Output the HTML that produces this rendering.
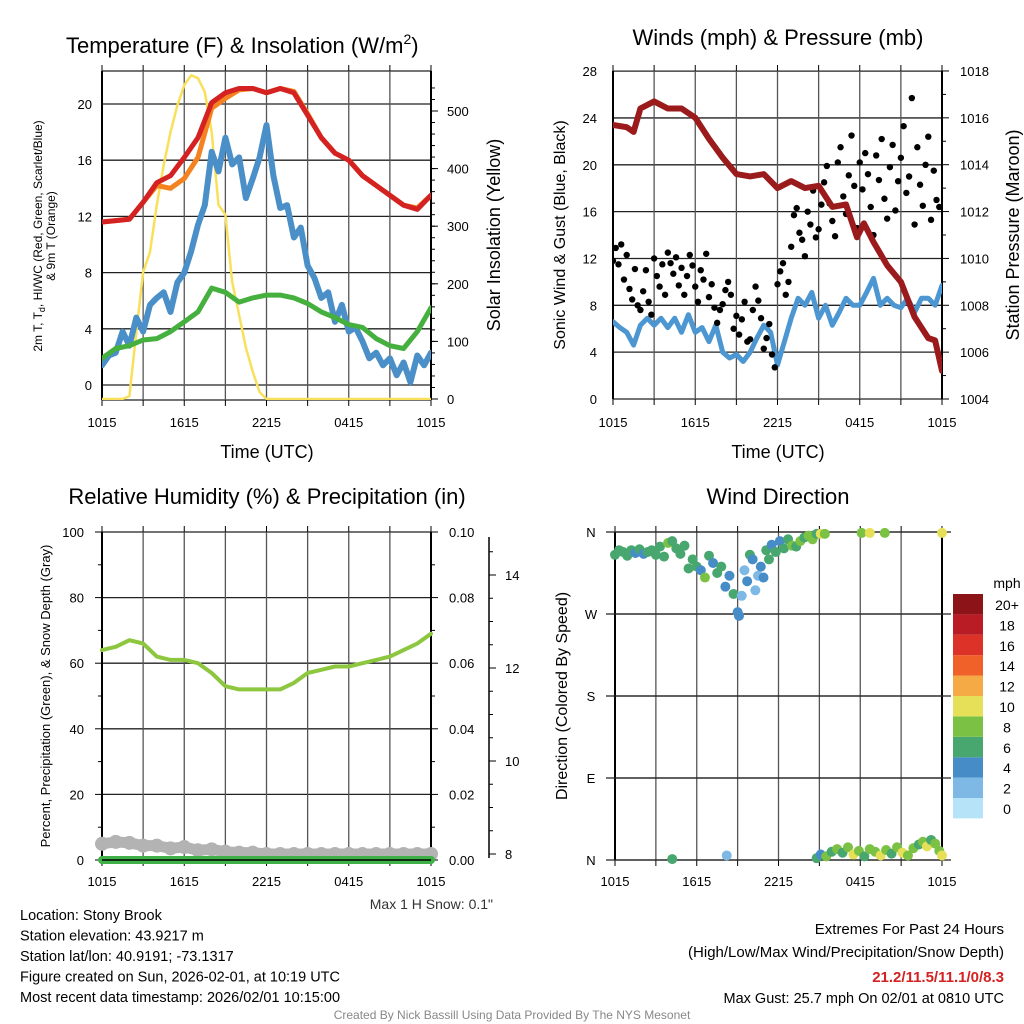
<!DOCTYPE html>
<html><head><meta charset="utf-8">
<style>
html,body{margin:0;padding:0;background:#fff;}
svg{display:block;font-family:"Liberation Sans",Arial,sans-serif;}
</style></head>
<body>
<svg id="chart" width="1024" height="1024" viewBox="0 0 1024 1024" xmlns="http://www.w3.org/2000/svg"></svg>
<script>
// ---------- DATA ----------
const timeTicks = ["1015","1615","2215","0415","1015"];
const tempRed = [11.6,11.7,11.8,13.0,14.4,14.9,16.2,17.6,20.1,20.8,21.1,21.1,20.8,21.1,20.8,19.2,17.6,16.5,16.0,14.9,14.2,13.5,12.8,12.5,13.5];
const tempOrange = [11.6,11.7,11.8,13.0,14.2,14.0,14.7,16.2,19.7,20.4,21.0,21.1,20.8,21.1,20.9,19.3,17.6,16.5,16.0,14.9,14.2,13.5,12.8,12.6,13.5];
const tempGreen = [1.9,2.6,2.8,3.2,3.3,3.8,4.5,5.2,6.9,6.6,5.9,6.2,6.4,6.4,6.2,5.8,5.2,4.8,4.3,4.1,3.3,2.8,2.6,3.8,5.5];
const tempBlue = [1.4,2.1,2.3,3.8,2.8,4.8,3.8,5.7,6.2,6.6,5.2,7.3,8.0,9.5,11.4,12.8,16.6,15.2,17.6,15.7,16.2,13.3,14.7,16.2,18.5,14.9,12.6,12.8,10.5,11.2,8.5,7.6,6.2,6.6,4.5,5.7,3.8,4.1,3.1,1.9,2.3,1.4,1.9,0.7,1.6,0.2,2.1,1.4,2.3];
const solar = [0,0,0,0,5,116,220,255,337,406,463,510,545,562,557,533,463,337,320,203,146,89,47,12,0,0,0,0,0,0,0,0,0,0,0,0,0,0,0,0,0,0,0,0,0,0,0,0,0];
const tempTicks = [0,4,8,12,16,20];
const solarTicks = [0,100,200,300,400,500];
const windSonic = [6.6,6.1,5.7,4.6,6.3,6.9,6.3,6.9,6.1,6.9,5.7,7.2,5.7,6.1,4.9,6.3,4.0,3.5,3.8,3.2,4.0,5.2,6.3,5.7,2.9,4.9,6.9,8.6,8.0,9.1,6.9,8.0,6.3,7.4,8.6,8.0,8.0,9.1,10.3,8.0,8.6,8.0,7.8,8.6,7.4,8.6,8.6,8.0,9.7];
const gusts = [11.8,12.9,11.5,13.2,10.2,12.3,9.4,8.5,11.1,8.0,7.6,9.2,11.0,8.3,7.2,
12.0,10.5,9.6,11.5,8.9,12.5,11.6,10.7,12.1,9.7,11.2,8.9,10.5,12.3,11.4,
9.6,8.3,11.0,10.2,12.4,8.7,9.8,7.8,6.5,7.6,8.1,9.3,10.0,8.9,6.0,
7.1,5.5,6.8,8.3,4.9,5.1,7.6,9.6,8.4,6.9,4.3,5.2,6.4,3.8,2.7,
9.8,10.9,11.6,8.9,10.0,13.0,15.7,16.3,14.2,13.6,12.2,16.0,14.9,17.8,13.8,
14.5,16.6,18.5,19.9,16.7,15.2,13.9,20.2,21.5,17.3,15.8,19.1,22.5,18.2,14.6,
20.2,17.9,21.0,19.2,16.4,14.0,20.8,18.7,22.2,17.1,15.4,19.8,21.7,16.1,18.6,
20.6,23.3,17.6,19.0,25.7,14.9,21.5,18.3,16.5,20.0,22.4,15.3,19.5,17.0,16.4];
const presTime = [0,1,1.5,2,3,4,5,6,7,8,9,10,11,12,13,14,15,16,17,17.8,18.3,19,20,21,22,23,23.5,24];
const pressure = [1015.7,1015.6,1015.4,1016.4,1016.7,1016.4,1016.4,1016.0,1015.1,1014.3,1013.6,1013.5,1013.6,1013.0,1013.3,1013.0,1013.1,1012.2,1012.3,1010.9,1011.5,1010.7,1009.7,1009.0,1007.5,1006.6,1006.5,1005.2];
const windTicks = [0,4,8,12,16,20,24,28];
const presTicks = [1004,1006,1008,1010,1012,1014,1016,1018];
const rh = [64,65,67,66,62,61,61,60,57,53,52,52,52,52,54,57,58,59,59,60,61,62,64,66,69];
const precip = [0,0,0,0,0,0,0,0,0,0,0,0,0,0,0,0,0,0,0,0,0,0,0,0,0];
const snowDepth = [8.22,8.26,8.24,8.18,8.18,8.12,8.15,8.08,8.1,8.05,8.03,8.03,8.0,8.0,8.0,8.0,8.0,8.0,8.0,8.0,8.0,8.0,8.0,8.0,8.0];
const rhTicks = [0,20,40,60,80,100];
const precipTicks = ["0.00","0.02","0.04","0.06","0.08","0.10"];
const snowTicks = [8,10,12,14];
const wdTime = [0,0.3,0.6,0.9,1.2,1.5,1.8,2.1,2.4,2.7,3.0,3.3,3.6,3.9,4.2,4.5,4.8,5.1,5.4,5.7,6.0,6.3,6.6,6.9,7.2,7.5,7.8,8.1,8.4,8.7,9.0,9.1,9.3,9.5,9.7,9.9,10.1,10.3,10.5,10.7,10.9,11.1,11.3,11.5,11.8,12.1,12.4,12.7,13.0,13.3,13.6,13.9,14.2,14.5,14.8,15.1,15.4,18.1,18.7,19.8,24,
4.2,8.2,14.8,15.1,15.5,15.9,16.3,16.7,17.1,17.5,17.9,18.3,18.7,19.1,19.5,19.9,20.3,20.7,21.1,21.5,21.9,22.3,22.6,22.9,23.2,23.5,23.8,24];
const wdDir = [335,340,338,334,340,337,341,336,338,340,335,344,333,348,350,342,336,345,320,330,322,318,310,334,326,315,322,300,312,292,272,268,290,318,306,335,330,296,312,322,310,340,330,346,338,350,342,352,345,344,350,354,356,352,358,358,358,359,359,359,359,
1,5,2,6,4,9,12,8,14,6,10,4,12,9,5,11,7,14,8,5,13,17,20,15,22,18,10,5];
const wdSpd = [6,6,6,6,6,4,6,4,6,6,6,6,6,8,6,6,6,6,6,6,6,4,8,6,4,6,6,4,4,6,4,4,2,2,4,6,4,2,2,4,4,6,6,4,6,4,6,6,8,6,8,6,8,8,6,10,8,8,10,8,10,
6,2,6,4,8,6,8,6,8,10,8,6,8,8,10,8,6,8,10,8,8,6,8,10,6,8,8,10];
const dirLabels = ["N","E","S","W","N"];
const speedLabels = ["0","2","4","6","8","10","12","14","16","18","20+"];
const speedColors = ["#b7e3f8","#7db9e4","#468dc8","#48a66f","#7bc244","#e6e059","#f6aa46","#ef6128","#dc3228","#b91c24","#8c1419"];

// ---------- HELPERS ----------
const NS="http://www.w3.org/2000/svg";
const svg=document.getElementById('chart');
function mk(tag,attrs,parent){const e=document.createElementNS(NS,tag);for(const k in attrs)e.setAttribute(k,attrs[k]);(parent||svg).appendChild(e);return e;}
function txt(s,x,y,size,anchor,parent,extra){const t=mk('text',Object.assign({x:x,y:y,'font-size':size,'text-anchor':anchor||'start',fill:'#000'},extra||{}),parent);t.textContent=s;return t;}
function linePath(xs,ys){return xs.map((x,i)=>(i?'L':'M')+x.toFixed(1)+','+ys[i].toFixed(1)).join('');}

function frame(g,x0,x1,y0,y1,hGrid,vGrid){
  hGrid.forEach(y=>{mk('line',{x1:x0,x2:x1,y1:y,y2:y,stroke:'#222','stroke-width':1.3},g);});
  vGrid.forEach(x=>{mk('line',{x1:x,x2:x,y1:y0,y2:y1,stroke:'#555','stroke-width':1.3},g);
    mk('line',{x1:x,x2:x,y1:y1,y2:y1+6,stroke:'#000','stroke-width':1},g);
    mk('line',{x1:x,x2:x,y1:y0,y2:y0-6,stroke:'#000','stroke-width':1},g);});
  mk('line',{x1:x0,x2:x0,y1:y0,y2:y1,stroke:'#000','stroke-width':2},g);
  mk('line',{x1:x1,x2:x1,y1:y0,y2:y1,stroke:'#000','stroke-width':2},g);
}
const hrs25=[...Array(25).keys()];
const hrs49=[...Array(49).keys()].map(i=>i/2);

// ---------- PANEL 1 ----------
(function(){
  const g=mk('g',{});
  
  
  const X=h=>102+h*329/24, YT=v=>385-v*14.05, YS=w=>399-w*0.576;
  const t=txt('Temperature (F) & Insolation (W/m',66,53,22,'start',g);
  
  const sp=mk('tspan',{dy:-9,'font-size':14},t);sp.textContent='2';
  const sp2=mk('tspan',{dy:9},t);sp2.textContent=')';
  frame(g,102,431,71,400,tempTicks.map(YT).concat([71,400]),[0,3,6,9,12,15,18,21,24].map(X));
  tempTicks.forEach(v=>{const l=txt(String(v),92,YT(v)+5,13,'end',g);});
  solarTicks.forEach(v=>{mk('line',{x1:431,x2:438,y1:YS(v),y2:YS(v),stroke:'#000'},g);const l=txt(String(v),447,YS(v)+5,13,'start',g);});
  for(let w=20;w<560;w+=20){mk('line',{x1:431,x2:435,y1:YS(w),y2:YS(w),stroke:'#000'},g);}
  timeTicks.forEach((s,i)=>{const l=txt(s,X(i*6),427,13,'middle',g);});
  const xl=txt('Time (UTC)',267,458,18,'middle',g);
  const yr=txt('Solar Insolation (Yellow)',0,0,18,'middle',g,{transform:'translate(500,235) rotate(-90)'});
  const yl=txt('',0,0,12,'middle',g,{transform:'translate(42,236) rotate(-90)'});
  
  const a=mk('tspan',{x:0,dy:0},yl);a.textContent='2m T, T';const a2=mk('tspan',{'font-size':9,dy:3},yl);a2.textContent='d';const a3=mk('tspan',{dy:-3},yl);a3.textContent=', HI/WC (Red, Green, Scarlet/Blue)';
  const b=mk('tspan',{x:0,dy:13},yl);b.textContent='& 9m T (Orange)';
  const clip=mk('clipPath',{id:'c1'},g);mk('rect',{x:102,y:71,width:329,height:329},clip);
  const pg=mk('g',{'clip-path':'url(#c1)'},g);
  const sol=mk('path',{d:linePath(hrs49.map(X),solar.map(YS)),fill:'none',stroke:'#f9e05b','stroke-width':2.5,'stroke-linejoin':'round'},pg);
  
  const bl=mk('path',{d:linePath(hrs49.map(X),tempBlue.map(YT)),fill:'none',stroke:'#4a8fc7','stroke-width':6,'stroke-linejoin':'round','stroke-linecap':'round'},pg);
  
  const gr=mk('path',{d:linePath(hrs25.map(X),tempGreen.map(YT)),fill:'none',stroke:'#46b03f','stroke-width':5,'stroke-linejoin':'round','stroke-linecap':'round'},pg);
  
  const or=mk('path',{d:linePath(hrs25.map(X),tempOrange.map(YT)),fill:'none',stroke:'#f58220','stroke-width':5,'stroke-linejoin':'round','stroke-linecap':'round'},pg);
  
  const rd=mk('path',{d:linePath(hrs25.map(X),tempRed.map(YT)),fill:'none',stroke:'#d42121','stroke-width':5,'stroke-linejoin':'round','stroke-linecap':'round'},pg);
  
})();

// ---------- PANEL 2 ----------
(function(){
  const g=mk('g',{});
  
  
  const X=h=>613+h*329/24, YW=v=>399-v*11.71, YP=p=>399-(p-1004)*23.43;
  const t=txt('Winds (mph) & Pressure (mb)',778,45,22,'middle',g);
  frame(g,613,942,71,399,windTicks.map(YW),[0,3,6,9,12,15,18,21,24].map(X));
  windTicks.forEach(v=>{const l=txt(String(v),597,YW(v)+5,13,'end',g);});
  presTicks.forEach(v=>{mk('line',{x1:942,x2:949,y1:YP(v),y2:YP(v),stroke:'#000'},g);if(v<1018)mk('line',{x1:942,x2:946,y1:YP(v+1),y2:YP(v+1),stroke:'#000'},g);const l=txt(String(v),960,YP(v)+5,13,'start',g);});
  timeTicks.forEach((s,i)=>{const l=txt(s,X(i*6),427,13,'middle',g);});
  const xl=txt('Time (UTC)',778,458,18,'middle',g);
  const yl=txt('Sonic Wind & Gust (Blue, Black)',0,0,16,'middle',g,{transform:'translate(565,235) rotate(-90)'});
  const yr=txt('Station Pressure (Maroon)',0,0,18,'middle',g,{transform:'translate(1019,235) rotate(-90)'});
  const clip=mk('clipPath',{id:'c2'},g);mk('rect',{x:613,y:71,width:329,height:328},clip);
  const pg=mk('g',{'clip-path':'url(#c2)'},g);
  const bl=mk('path',{d:linePath(hrs49.map(X),windSonic.map(YW)),fill:'none',stroke:'#4c96d2','stroke-width':5,'stroke-linejoin':'round','stroke-linecap':'round'},pg);
  
  gusts.forEach((v,i)=>{const c=mk('circle',{cx:X(i*0.2),cy:YW(v),r:3.2,fill:'#000'},pg);
    
    });
  const pr=mk('path',{d:linePath(presTime.map(X),pressure.map(YP)),fill:'none',stroke:'#9b1a1c','stroke-width':6,'stroke-linejoin':'round','stroke-linecap':'round'},pg);
  
})();

// ---------- PANEL 3 ----------
(function(){
  const g=mk('g',{});
  
  
  const X=h=>102+h*329/24, YR=v=>860-v*3.28, YPr=v=>860-v*3280, YSn=v=>854-(v-8)*46.5;
  const t=txt('Relative Humidity (%) & Precipitation (in)',267,504,22,'middle',g);
  frame(g,102,431,532,860,rhTicks.map(YR),[0,3,6,9,12,15,18,21,24].map(X));
  rhTicks.forEach(v=>{mk('line',{x1:95,x2:102,y1:YR(v),y2:YR(v),stroke:'#000'},g);if(v<100)mk('line',{x1:98,x2:102,y1:YR(v+10),y2:YR(v+10),stroke:'#000'},g);const l=txt(String(v),84,YR(v)+5,13,'end',g);});
  precipTicks.forEach((s,i)=>{const y=YPr(i*0.02);mk('line',{x1:431,x2:438,y1:y,y2:y,stroke:'#000'},g);if(i<5)mk('line',{x1:431,x2:435,y1:y-32.8,y2:y-32.8,stroke:'#000'},g);const l=txt(s,449,y+5,13,'start',g);});
  mk('line',{x1:489,x2:489,y1:537,y2:858,stroke:'#000','stroke-width':1.5},g);
  snowTicks.forEach(v=>{mk('line',{x1:489,x2:496,y1:YSn(v),y2:YSn(v),stroke:'#000'},g);[0.5,1,1.5].forEach(d=>{const y=YSn(v+d);if(y>=537)mk('line',{x1:489,x2:493,y1:y,y2:y,stroke:'#000'},g);});const l=txt(String(v),505,YSn(v)+5,13,'start',g);});
  timeTicks.forEach((s,i)=>{const l=txt(s,X(i*6),886,13,'middle',g);});
  const yl=txt('Percent, Precipitation (Green), & Snow Depth (Gray)',0,0,13,'middle',g,{transform:'translate(50,696) rotate(-90)'});
  snowDepth.forEach((v,i)=>{const c=mk('circle',{cx:X(i),cy:YSn(v),r:7,fill:'#b3b3b3'},g);
    
    });
  const sd=mk('path',{d:linePath(hrs25.map(X),snowDepth.map(YSn)),fill:'none',stroke:'#b3b3b3','stroke-width':11,'stroke-linecap':'round','stroke-linejoin':'round'},g);
  
  const pc=mk('path',{d:linePath(hrs25.map(X),precip.map(YPr)),fill:'none',stroke:'#3fb148','stroke-width':8,'stroke-linecap':'round'},g);
  
  mk('line',{x1:102,x2:431,y1:860,y2:860,stroke:'#000','stroke-width':1.5},g);
  const rl=mk('path',{d:linePath(hrs25.map(X),rh.map(YR)),fill:'none',stroke:'#8dc63f','stroke-width':4,'stroke-linejoin':'round','stroke-linecap':'round'},g);
  
  const ms=txt('Max 1 H Snow: 0.1"',493,909,14,'end',g,{fill:'#333'});
})();

// ---------- PANEL 4 ----------
(function(){
  const g=mk('g',{});
  
  
  const X=h=>615+h*327/24, YD=d=>860-d*328/360;
  const t=txt('Wind Direction',778,504,22,'middle',g);
  frame(g,615,942,532,860,[0,90,180,270,360].map(YD),[0,3,6,9,12,15,18,21,24].map(X));
  mk('line',{x1:606,x2:951,y1:532,y2:532,stroke:'#222','stroke-width':1.3},g);
  mk('line',{x1:606,x2:951,y1:860,y2:860,stroke:'#222','stroke-width':1.3},g);
  [90,180,270].forEach(d=>{mk('line',{x1:606,x2:951,y1:YD(d),y2:YD(d),stroke:'#222','stroke-width':1.3},g);});
  dirLabels.forEach((s,i)=>{const l=txt(s,591,YD(i*90)+5,13,'middle',g);});
  timeTicks.forEach((s,i)=>{const l=txt(s,X(i*6),886,13,'middle',g);});
  const yl=txt('Direction (Colored By Speed)',0,0,16,'middle',g,{transform:'translate(567,696) rotate(-90)'});
  wdTime.forEach((h,i)=>{const idx=Math.min(10,Math.floor(wdSpd[i]/2));
    const c=mk('circle',{cx:X(h),cy:YD(wdDir[i]),r:5,fill:speedColors[idx]},g);
    
    });
  const ut=txt('mph',1007,588,14,'middle',g);
  speedLabels.forEach((s,i)=>{const y=798-i*20.4;
    const r=mk('rect',{x:953,y:y,width:30,height:20.4,fill:speedColors[i]},g);
    
    
    const l=txt(s,1007,y+16,14,'middle',g);});
})();

// ---------- FOOTER ----------
(function(){
  const g=mk('g',{});
  
  
  const left=["Location: Stony Brook","Station elevation: 43.9217 m","Station lat/lon: 40.9191; -73.1317","Figure created on Sun, 2026-02-01, at 10:19 UTC","Most recent data timestamp: 2026/02/01 10:15:00"];
  left.forEach((s,i)=>{const l=txt(s,20,920+i*20.5,14.5,'start',g);});
  const r1=txt('Extremes For Past 24 Hours',1004,934,15,'end',g);
  const r2=txt('(High/Low/Max Wind/Precipitation/Snow Depth)',1004,957,15,'end',g);
  const r3=txt('21.2/11.5/11.1/0/8.3',1004,982,15,'end',g,{fill:'#d42121','font-weight':'bold'});
  const r4=txt('Max Gust: 25.7 mph On 02/01 at 0810 UTC',1004,1003,14.5,'end',g);
  const c=txt('Created By Nick Bassill Using Data Provided By The NYS Mesonet',512,1019,12,'middle',g,{fill:'#888'});
})();
</script>
</body></html>
